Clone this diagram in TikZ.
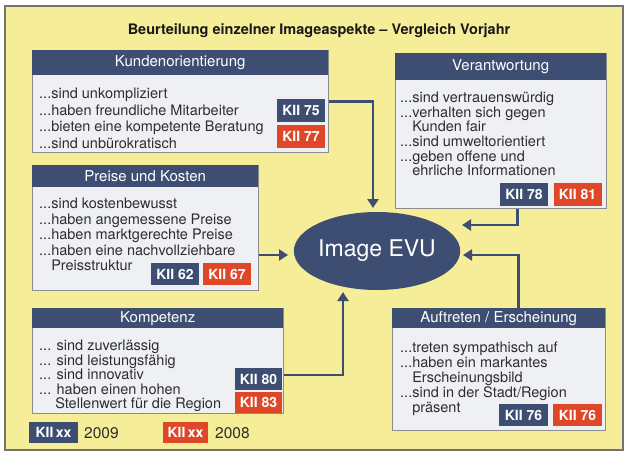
\documentclass[tikz,border=0pt]{standalone}
\usepackage{fontspec}
\setmainfont{TeX Gyre Heros}
\usetikzlibrary{arrows.meta,shapes.geometric}
\definecolor{hblue}{RGB}{62,78,114}
\definecolor{tred}{RGB}{222,72,40}
\definecolor{bgyellow}{RGB}{245,237,152}
\definecolor{bodyfill}{RGB}{238,240,244}
\definecolor{bodytext}{RGB}{45,45,45}
\newcommand{\myind}{\hphantom{...}}
\begin{document}
\begin{tikzpicture}[x=1pt,y=-1pt,
  frame/.style={draw=black!55,line width=1.5pt,fill=bgyellow},
  boxbody/.style={draw=black!45,line width=0.8pt,fill=bodyfill,anchor=north west,inner sep=0pt},
  hdr/.style={fill=hblue,text=white,anchor=north west,inner sep=0pt,font=\fontsize{15}{18}\selectfont},
  bodytxt/.style={anchor=north west,inner sep=0pt,align=left,text=bodytext},
  tagb/.style={fill=hblue,text=white,inner sep=0pt,minimum width=48pt,minimum height=23pt,font=\bfseries\fontsize{14}{16}\selectfont},
  tagr/.style={tagb,fill=tred},
  arr/.style={draw=hblue,line width=2.6pt,-{Triangle[length=9pt,width=11pt]}},
]
\useasboundingbox (0,0) rectangle (629,458);
\fill[white] (0,0) rectangle (629,458);
\path[frame] (5,6) rectangle (623,450);

\node[font=\bfseries\fontsize{14.5}{17}\selectfont,text=black!90] (title) at (319,31) {Beurteilung einzelner Imageaspekte -- Vergleich Vorjahr};

% Kundenorientierung
\node[boxbody,minimum width=296pt,minimum height=102pt] (k) at (32,50) {};
\node[hdr,minimum width=296pt,minimum height=25pt] (kh) at (32,50) {Kundenorientierung};
\node[bodytxt,font=\fontsize{14.5}{16.5}\selectfont] (kt) at (39,88) {...sind unkompliziert\\...haben freundliche Mitarbeiter\\...bieten eine kompetente Beratung\\...sind unbürokratisch};
\node[tagb] (k75) at (301,110) {KII 75};
\node[tagr] (k77) at (301,136.5) {KII 77};

% Verantwortung
\node[boxbody,minimum width=211pt,minimum height=155pt] (v) at (395,53) {};
\node[hdr,minimum width=211pt,minimum height=27pt] (vh) at (395,53) {Verantwortung};
\node[bodytxt,font=\fontsize{14.5}{14.6}\selectfont] (vt) at (400,92) {...sind vertrauenswürdig\\...verhalten sich gegen\\\myind Kunden fair\\...sind umweltorientiert\\...geben offene und\\\myind ehrliche Informationen};
\node[tagb] (v78) at (524,194) {KII 78};
\node[tagr] (v81) at (577.5,194) {KII 81};

% Preise und Kosten
\node[boxbody,minimum width=226pt,minimum height=125pt] (p) at (32,165) {};
\node[hdr,minimum width=226pt,minimum height=22pt] (ph) at (32,165) {Preise und Kosten};
\node[bodytxt,font=\fontsize{14.5}{15.5}\selectfont] (pt) at (39,198) {...sind kostenbewusst\\...haben angemessene Preise\\...haben marktgerechte Preise\\...haben eine nachvollziehbare\\\myind Preisstruktur};
\node[tagb,minimum height=22pt] (p62) at (175,274) {KII 62};
\node[tagr,minimum height=22pt] (p67) at (227,274) {KII 67};

% Kompetenz
\node[boxbody,minimum width=251pt,minimum height=105pt] (c) at (32,308) {};
\node[hdr,minimum width=251pt,minimum height=20pt] (ch) at (32,308) {Kompetenz};
\node[bodytxt,font=\fontsize{14.5}{14.5}\selectfont] (ct) at (39,340) {... sind zuverlässig\\... sind leistungsfähig\\... sind innovativ\\... haben einen hohen\\\myind\ Stellenwert für die Region};
\node[tagb,minimum width=47pt,minimum height=22pt] (c80) at (258.5,379) {KII 80};
\node[tagr,minimum width=47pt,minimum height=21pt] (c83) at (258.5,402.5) {KII 83};

% Auftreten / Erscheinung
\node[boxbody,minimum width=213pt,minimum height=122pt] (a) at (392,308) {};
\node[hdr,minimum width=213pt,minimum height=20pt] (ah) at (392,308) {Auftreten / Erscheinung};
\node[bodytxt,font=\fontsize{14.5}{15}\selectfont] (at) at (400,342) {...treten sympathisch auf\\...haben ein markantes\\\myind Erscheinungsbild\\...sind in der Stadt/Region\\\myind präsent};
\node[tagb,minimum width=49pt,minimum height=22pt] (a76b) at (523.5,415) {KII 76};
\node[tagr,minimum width=49pt,minimum height=22pt] (a76r) at (577.5,415) {KII 76};

% Ellipse
\node[ellipse,fill=hblue,text=white,minimum width=165pt,minimum height=78pt,inner sep=0pt,font=\fontsize{23}{26}\selectfont] (evu) at (377,251) {Image EVU};

% Legend
\node[tagb,minimum width=49pt,minimum height=21pt] (lb) at (53.5,432.5) {KII\,xx};
\node[anchor=west,inner sep=0pt,text=bodytext,font=\fontsize{15.5}{17}\selectfont] (l09) at (84,433) {2009};
\node[tagr,minimum width=45pt,minimum height=21pt] (lr) at (185.5,432.5) {KII\,xx};
\node[anchor=west,inner sep=0pt,text=bodytext,font=\fontsize{15.5}{17}\selectfont] (l08) at (215,433) {2008};

% Connectors
\coordinate (kend) at (373,208);
\coordinate (vend) at (462,225);
\coordinate (pend) at (288,255);
\coordinate (cend) at (343,292);
\coordinate (aend) at (463,255);
\draw[arr] (k.east) -| (kend);
\draw[arr] ([xshift=16.5pt]v.south) |- (vend);
\draw[arr] (p.east |- pend) -- (pend);
\draw[arr] ([yshift=-14pt]c.east) -| (cend);
\draw[arr] ([xshift=19.5pt]a.north) |- (aend);
\end{tikzpicture}
\end{document}
